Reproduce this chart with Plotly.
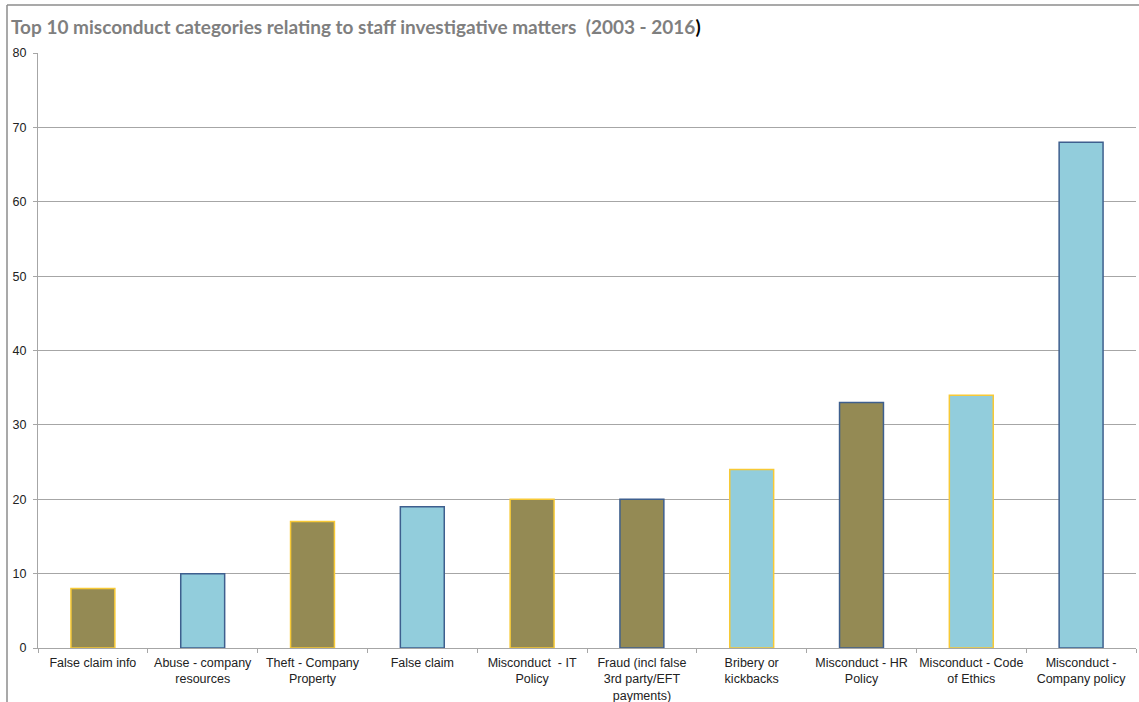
import plotly.graph_objects as go

# Categories and counts of staff investigative matters, 2003 - 2016
categories = [
    "False claim info",
    "Abuse - company<br>resources",
    "Theft - Company<br>Property",
    "False claim",
    "Misconduct  - IT<br>Policy",
    "Fraud (incl false<br>3rd party/EFT<br>payments)",
    "Bribery or<br>kickbacks",
    "Misconduct - HR<br>Policy",
    "Misconduct - Code<br>of Ethics",
    "Misconduct -<br>Company policy",
]
counts = [8, 10, 17, 19, 20, 20, 24, 33, 34, 68]
y_ticks = [0, 10, 20, 30, 40, 50, 60, 70, 80]

# Bar styling
OLIVE = "#948A54"
AQUA = "#92CDDC"
GOLD = "#F7C936"
NAVY = "#3E5F8E"
fill_colors = [OLIVE, AQUA, OLIVE, AQUA, OLIVE, OLIVE, AQUA, OLIVE, AQUA, AQUA]
edge_colors = [GOLD, NAVY, GOLD, NAVY, GOLD, NAVY, GOLD, NAVY, GOLD, NAVY]

W, H = 1139, 702
L, R, T, B = 38, 3, 53, 54
plot_w = W - L - R
plot_h = H - T - B


def px_to_paper_x(px):
    return (px - L) / plot_w


def px_to_paper_y(py):
    return (H - B - py) / plot_h


fig = go.Figure(
    go.Bar(
        x=categories,
        y=counts,
        width=0.4,
        marker=dict(color=fill_colors, line=dict(color=edge_colors, width=1.5)),
        hoverinfo="x+y",
    )
)

title_text = (
    "<b>Top 10 misconduct categories relating to staff investigative matters"
    "  (2003 - 2016<span style='color:#000000'>)</span></b>"
)

fig.update_layout(
    width=W,
    height=H,
    margin=dict(l=L, r=R, t=T, b=B, autoexpand=False),
    paper_bgcolor="#FFFFFF",
    plot_bgcolor="#FFFFFF",
    showlegend=False,
    bargap=0.6,
    font=dict(family="Liberation Sans, Arial, sans-serif", size=12.5, color="#222222"),
    annotations=[
        dict(
            text=title_text,
            xref="paper",
            yref="paper",
            x=px_to_paper_x(9),
            y=px_to_paper_y(27),
            xanchor="left",
            yanchor="middle",
            showarrow=False,
            font=dict(family="Lato, sans-serif", size=19, color="#7F7F7F"),
        )
    ],
    shapes=[
        # outer frame: top and left edges
        dict(
            type="line", xref="paper", yref="paper",
            x0=px_to_paper_x(7), y0=px_to_paper_y(5),
            x1=px_to_paper_x(W + 5), y1=px_to_paper_y(5),
            line=dict(color="#8C8C8C", width=1.5),
        ),
        dict(
            type="line", xref="paper", yref="paper",
            x0=px_to_paper_x(7), y0=px_to_paper_y(5),
            x1=px_to_paper_x(7), y1=px_to_paper_y(H + 5),
            line=dict(color="#8C8C8C", width=1.5),
        ),
    ],
)

fig.update_xaxes(
    type="category",
    showline=True,
    linecolor="#A6A6A6",
    linewidth=1,
    ticks="outside",
    tickson="boundaries",
    ticklen=4,
    tickcolor="#A6A6A6",
    tickangle=0,
    automargin=False,
    ticklabelstandoff=3,
    showgrid=False,
    tickfont=dict(size=12.5, color="#222222"),
    fixedrange=True,
)

fig.update_yaxes(
    range=[0, 80],
    tickvals=y_ticks,
    showline=True,
    linecolor="#A6A6A6",
    linewidth=1,
    ticks="outside",
    ticklen=4,
    tickcolor="#A6A6A6",
    automargin=False,
    ticklabelstandoff=4,
    showgrid=True,
    gridcolor="#A6A6A6",
    gridwidth=1,
    zeroline=False,
    tickfont=dict(size=12.5, color="#222222"),
    fixedrange=True,
)

fig.write_html("out.html")
